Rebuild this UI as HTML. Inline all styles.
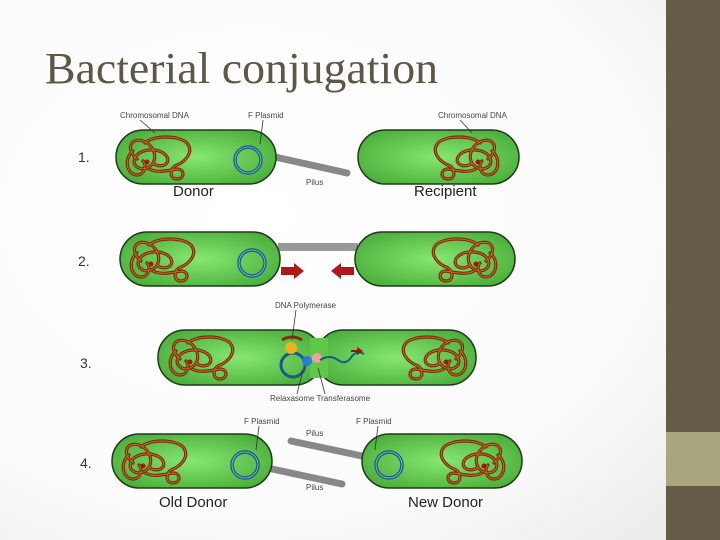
<!DOCTYPE html>
<html><head><meta charset="utf-8"><style>
html,body{margin:0;padding:0;width:720px;height:540px;overflow:hidden;background:#fff}
</style></head><body>
<svg width="720" height="540" viewBox="0 0 720 540" xmlns="http://www.w3.org/2000/svg" font-family="Liberation Sans, sans-serif">
<defs>
<radialGradient id="bg" cx="0.35" cy="0.4" r="0.8"><stop offset="0" stop-color="#ffffff"/><stop offset="0.7" stop-color="#fbfbfb"/><stop offset="1" stop-color="#ececec"/></radialGradient>
<radialGradient id="cell" cx="0.5" cy="0.5" r="0.6"><stop offset="0" stop-color="#86e872"/><stop offset="1" stop-color="#4aae3a"/></radialGradient>
<g id="chr" fill="none" stroke-linecap="round">
<g stroke="#7a2a08" stroke-width="3.2">
<path d="M14,22 C2,12 8,0 20,4 C32,8 36,24 26,30 C16,36 6,26 14,18 C22,10 40,12 44,20 C48,28 36,32 30,26"/>
<path d="M22,6 C30,-2 56,-2 64,6 C72,16 60,26 54,28 C46,31 46,42 54,42 C62,42 62,32 54,32 C42,34 34,36 26,32"/>
<path d="M10,14 C0,22 4,38 14,38 C22,38 24,28 20,24"/>
</g>
<g stroke="#c86a2a" stroke-width="1">
<path d="M14,22 C2,12 8,0 20,4 C32,8 36,24 26,30 C16,36 6,26 14,18 C22,10 40,12 44,20 C48,28 36,32 30,26"/>
<path d="M22,6 C30,-2 56,-2 64,6 C72,16 60,26 54,28 C46,31 46,42 54,42 C62,42 62,32 54,32 C42,34 34,36 26,32"/>
<path d="M10,14 C0,22 4,38 14,38 C22,38 24,28 20,24"/>
</g>
<circle cx="24" cy="25" r="2.5" fill="#a01808"/>
</g>
<g id="plas"><circle r="13" fill="none" stroke="#1a5a8a" stroke-width="3.5"/><circle r="13" fill="none" stroke="#8cc" stroke-width="0.8"/></g>
</defs>
<rect width="720" height="540" fill="url(#bg)"/>
<rect x="666" y="0" width="54" height="540" fill="#655c48"/>
<rect x="666" y="432" width="54" height="54" fill="#a9a57c"/>
<text x="45" y="83" font-family="Liberation Serif, serif" font-size="44" fill="#5f5746" textLength="393" lengthAdjust="spacingAndGlyphs">Bacterial conjugation</text>

<g font-size="14" fill="#333"><text x="78" y="162">1.</text><text x="78" y="266">2.</text><text x="80" y="368">3.</text><text x="80" y="468">4.</text></g>

<!-- row1 -->
<line x1="275" y1="157" x2="347" y2="173" stroke="#888" stroke-width="7" stroke-linecap="round"/>
<rect x="116" y="130" width="160" height="54" rx="27" fill="url(#cell)" stroke="#1f3a1a" stroke-width="1.5"/>
<rect x="358" y="130" width="161" height="54" rx="27" fill="url(#cell)" stroke="#1f3a1a" stroke-width="1.5"/>
<use href="#chr" x="123" y="137"/><use href="#chr" transform="translate(502,137) scale(-1,1)"/>
<use href="#plas" x="248" y="160"/>
<g font-size="8" fill="#444"><text x="120" y="118">Chromosomal DNA</text><text x="248" y="118">F Plasmid</text><text x="438" y="118">Chromosomal DNA</text><text x="306" y="185">Pilus</text></g>
<g stroke="#333" stroke-width="0.8"><line x1="140" y1="120" x2="155" y2="133"/><line x1="263" y1="120" x2="260" y2="144"/><line x1="460" y1="120" x2="472" y2="133"/></g>
<g font-size="15" fill="#222"><text x="173" y="196">Donor</text><text x="414" y="196">Recipient</text></g>

<!-- row2 -->
<rect x="278" y="243" width="80" height="8" fill="#999"/>
<rect x="120" y="232" width="160" height="54" rx="27" fill="url(#cell)" stroke="#1f3a1a" stroke-width="1.5"/>
<rect x="355" y="232" width="160" height="54" rx="27" fill="url(#cell)" stroke="#1f3a1a" stroke-width="1.5"/>
<use href="#chr" x="127" y="239"/><use href="#chr" transform="translate(500,239) scale(-1,1)"/>
<use href="#plas" x="252" y="263"/>
<path d="M281,267 h13 v-4 l10,8 l-10,8 v-4 h-13z" fill="#b01818"/>
<path d="M354,267 h-13 v-4 l-10,8 l10,8 v-4 h13z" fill="#b01818"/>

<!-- row3 -->
<rect x="158" y="330" width="164" height="55" rx="27" fill="url(#cell)" stroke="#1f3a1a" stroke-width="1.5"/>
<rect x="316" y="330" width="160" height="55" rx="27" fill="url(#cell)" stroke="#1f3a1a" stroke-width="1.5"/>
<rect x="310" y="338" width="18" height="40" fill="#5fc84c"/>
<use href="#chr" x="166" y="337"/><use href="#chr" transform="translate(470,337) scale(-1,1)"/>
<circle cx="293" cy="365" r="12" fill="none" stroke="#1a5a8a" stroke-width="3"/>
<path d="M282,340 q10,-6 20,0" stroke="#8a2a0a" stroke-width="3" fill="none"/>
<ellipse cx="291" cy="348" rx="6" ry="6" fill="#f0b020"/>
<circle cx="307" cy="361" r="5" fill="#2a7ad8"/>
<circle cx="317" cy="358" r="5" fill="#f0a0a0"/>
<path d="M320,360 q10,-6 18,0 q8,6 14,-4 q6,-6 12,-2" stroke="#1a5a8a" stroke-width="2" fill="none"/>
<path d="M351,350 h6 v-3 l6,4 l-6,4 v-3 h-6z" fill="#a01010"/>
<g font-size="8" fill="#444"><text x="275" y="308">DNA Polymerase</text><text x="270" y="401">Relaxasome Transferasome</text></g>
<g stroke="#333" stroke-width="0.8"><line x1="296" y1="310" x2="292" y2="340"/><line x1="303" y1="370" x2="297" y2="394"/><line x1="318" y1="368" x2="325" y2="394"/></g>

<!-- row4 -->
<line x1="272" y1="469" x2="342" y2="484" stroke="#888" stroke-width="7" stroke-linecap="round"/>
<line x1="291" y1="441" x2="362" y2="456" stroke="#888" stroke-width="7" stroke-linecap="round"/>
<rect x="112" y="434" width="160" height="54" rx="27" fill="url(#cell)" stroke="#1f3a1a" stroke-width="1.5"/>
<rect x="362" y="434" width="160" height="54" rx="27" fill="url(#cell)" stroke="#1f3a1a" stroke-width="1.5"/>
<use href="#chr" x="119" y="441"/><use href="#chr" transform="translate(508,441) scale(-1,1)"/>
<use href="#plas" x="245" y="465"/>
<use href="#plas" x="389" y="465"/>
<g font-size="8" fill="#444"><text x="244" y="424">F Plasmid</text><text x="356" y="424">F Plasmid</text><text x="306" y="436">Pilus</text><text x="306" y="490">Pilus</text></g>
<g stroke="#333" stroke-width="0.8"><line x1="259" y1="426" x2="256" y2="450"/><line x1="378" y1="426" x2="375" y2="450"/></g>
<g font-size="15" fill="#222"><text x="159" y="507">Old Donor</text><text x="408" y="507">New Donor</text></g>
</svg>
</body></html>
